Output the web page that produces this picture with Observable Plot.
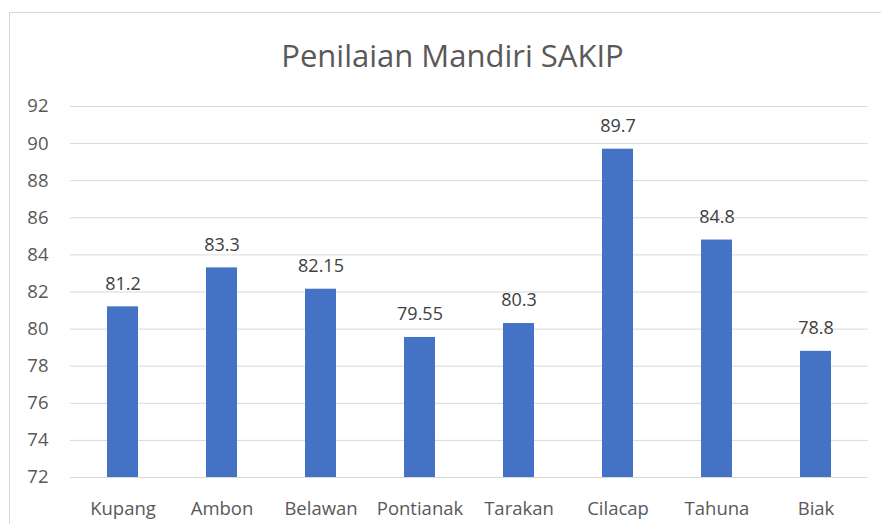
<!DOCTYPE html>
<html>
<head>
<meta charset="utf-8">
<script src="https://cdn.jsdelivr.net/npm/d3@7"></script>
<script src="https://cdn.jsdelivr.net/npm/@observablehq/plot@0.6"></script>
<style>
  html, body { margin: 0; padding: 0; background: #fff; }
  #wrap { position: relative; width: 881px; height: 524px; overflow: hidden; font-family: "Open Sans", sans-serif; }
  #frame { position: absolute; left: 9px; top: 12px; width: 900px; height: 600px; border: 1px solid #d9d9d9; box-sizing: border-box; }
  #title { position: absolute; left: 12px; top: 0; width: 881px; height: 90px; text-align: center; line-height: 110px; font-size: 31px; color: #595959; }
  #chart { position: absolute; left: 0; top: 90px; }
</style>
</head>
<body>
<div id="wrap">
  <div id="frame"></div>
  <div id="title">Penilaian Mandiri SAKIP</div>
  <div id="chart"></div>
</div>
<script>
const categories = ["Kupang", "Ambon", "Belawan", "Pontianak", "Tarakan", "Cilacap", "Tahuna", "Biak"];
const values = [81.2, 83.3, 82.15, 79.55, 80.3, 89.7, 84.8, 78.8];
const yTicks = [72, 74, 76, 78, 80, 82, 84, 86, 88, 90, 92];

const data = categories.map((c, i) => ({cat: c, val: values[i]}));

const chart = Plot.plot({
  width: 881,
  height: 434,
  marginLeft: 70,
  marginRight: 13,
  marginTop: 16,
  marginBottom: 47,
  style: {fontFamily: "Open Sans, sans-serif", fontSize: "18.5px", color: "#595959", background: "transparent"},
  x: {domain: categories, paddingInner: 0.69, paddingOuter: 0.345, label: null, tickSize: 0, tickPadding: 24},
  y: {domain: [72, 92], ticks: yTicks, label: null, tickSize: 0, tickPadding: 22, tickFormat: d => String(d)},
  marks: [
    Plot.ruleY(yTicks, {stroke: "#d9d9d9", strokeWidth: 1, strokeOpacity: 1}),
    Plot.barY(data, {x: "cat", y1: 72, y2: "val", fill: "#4472c4"}),
    Plot.text(data, {x: "cat", y: "val", text: d => String(d.val), dy: -23, fill: "#404040", fontSize: 18})
  ]
});
document.getElementById("chart").appendChild(chart);
</script>
</body>
</html>
